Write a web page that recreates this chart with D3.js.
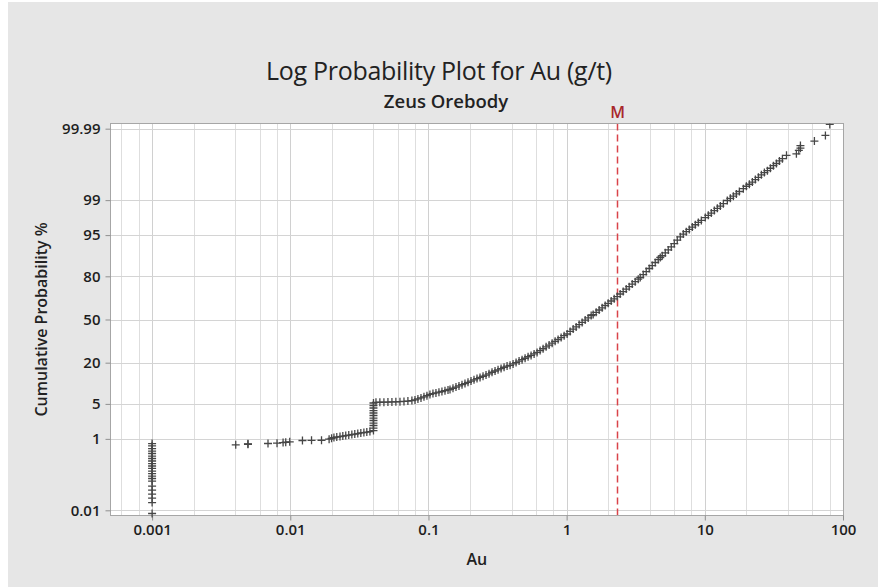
<!DOCTYPE html>
<html>
<head>
<meta charset="utf-8">
<script src="https://cdn.jsdelivr.net/npm/d3@7"></script>
<style>
  html, body { margin: 0; padding: 0; background: #ffffff; }
  svg { display: block; font-family: "Open Sans", "Noto Sans", sans-serif; }
</style>
</head>
<body>
<svg id="chart" width="878" height="587"></svg>
<script>
// ---- axis ticks ----
const xTicks = [0.001, 0.01, 0.1, 1, 10, 100];
const xTickLabels = ["0.001", "0.01", "0.1", "1", "10", "100"];
const yTicks = [0.01, 1, 5, 20, 50, 80, 95, 99, 99.99];
const yTickLabels = ["0.01", "1", "5", "20", "50", "80", "95", "99", "99.99"];

// mean grade marker (M)
const meanAu = 2.32;

// ---- Au samples (g/t) and cumulative probability (%) ----
// samples reported at the lower limit
const limitAu = 0.001;
const limitPct = [0.78, 0.689, 0.595, 0.518, 0.45, 0.389, 0.337, 0.291, 0.25, 0.215,
  0.185, 0.157, 0.134, 0.114, 0.097, 0.082, 0.0584, 0.0443, 0.0335, 0.0251, 0.018, 0.0078];

// sparse low-grade tail
const lowAu = [0.00403, 0.00494, 0.00494, 0.0069, 0.00802, 0.00887, 0.00927, 0.00991, 0.01225,
  0.01425, 0.01683, 0.0191, 0.0199, 0.0207, 0.0217, 0.0229, 0.024, 0.0252, 0.0265, 0.0279,
  0.0293, 0.0308, 0.0324, 0.0341, 0.0358, 0.0377];
const lowPct = [0.728, 0.753, 0.77, 0.782, 0.795, 0.824, 0.838, 0.856, 0.917,
  0.925, 0.931, 0.982, 1.03, 1.07, 1.10, 1.125, 1.155, 1.185, 1.217, 1.245,
  1.28, 1.31, 1.35, 1.38, 1.415, 1.45];

// samples at the 0.04 g/t step
const stepAu = 0.04;
const stepPct = [1.52, 1.72, 1.94, 2.18, 2.45, 2.74, 3.07, 3.42, 3.80, 4.23, 4.69, 5.18];

// main body of the distribution
const mainAu = [0.0417, 0.0445, 0.0476, 0.0509, 0.0544, 0.0581, 0.0622, 0.0665, 0.0710, 0.0759,
  0.0799, 0.0839, 0.0883, 0.0928, 0.0975, 0.1025, 0.1078, 0.1133, 0.1191, 0.1252,
  0.1317, 0.1385, 0.1432, 0.1505, 0.1582, 0.1663, 0.1749, 0.1838, 0.1933, 0.2032,
  0.2136, 0.2246, 0.2362, 0.2483, 0.2610, 0.2744, 0.2884, 0.3033, 0.3189, 0.3353,
  0.3525, 0.3706, 0.3896, 0.4096, 0.4306, 0.4527, 0.4759, 0.5004, 0.5260, 0.5530,
  0.5815, 0.6112, 0.6427, 0.6756, 0.7103, 0.7468, 0.7852, 0.8254, 0.8677, 0.9124,
  0.9592, 1.008, 1.060, 1.115, 1.172, 1.232, 1.295, 1.362, 1.432, 1.505,
  1.556, 1.636, 1.720, 1.808, 1.901, 1.998, 2.101, 2.209, 2.322, 2.441,
  2.567, 2.699, 2.837, 2.983, 3.136, 3.297, 3.409, 3.584, 3.768, 3.961,
  4.165, 4.378, 4.603, 4.759, 4.920, 5.173, 5.439, 5.718, 6.012, 6.320,
  6.645, 6.986, 7.343, 7.721, 8.118, 8.535, 8.973, 9.433, 10.08, 10.60,
  11.14, 11.72, 12.32, 12.95, 13.62, 14.55, 15.30, 16.09, 16.92, 17.78,
  19.01, 19.99, 21.01, 22.09, 23.22, 24.42, 25.67, 26.99, 28.38, 29.83,
  31.37, 32.97, 34.67, 36.44];
const mainPct = [5.32, 5.34, 5.36, 5.38, 5.40, 5.43, 5.47, 5.52, 5.60, 5.70,
  5.85, 6.08, 6.31, 6.60, 6.89, 7.21, 7.44, 7.62, 7.84, 8.02,
  8.27, 8.50, 8.64, 9.02, 9.39, 9.77, 10.2, 10.6, 11.05, 11.5,
  11.98, 12.46, 12.93, 13.43, 13.94, 14.49, 15.2, 15.78, 16.35, 16.94,
  17.6, 18.18, 18.6, 19.33, 20.08, 20.88, 21.67, 22.51, 23.39, 24.2,
  25.14, 26.04, 27.24, 28.42, 29.69, 30.88, 32.22, 33.56, 34.84, 36.22,
  37.61, 38.87, 40.83, 42.58, 44.28, 46.06, 47.73, 49.52, 51.24, 53.03,
  53.86, 55.56, 57.34, 59.01, 60.75, 62.39, 64.08, 65.68, 67.27, 69.04,
  70.72, 72.33, 73.89, 75.48, 76.97, 78.39, 79.34, 80.95, 82.50, 83.98,
  85.35, 86.66, 87.87, 88.65, 89.30, 90.30, 91.25, 92.15, 93.05, 93.90,
  94.65, 95.20, 95.65, 96.05, 96.42, 96.76, 97.07, 97.32, 97.65, 97.88,
  98.10, 98.31, 98.49, 98.65, 98.80, 98.98, 99.09, 99.19, 99.28, 99.37,
  99.46, 99.53, 99.58, 99.63, 99.68, 99.72, 99.76, 99.79, 99.814, 99.840,
  99.864, 99.882, 99.900, 99.914];

// high-grade tail
const highAu = [39.0, 46.0, 47.9, 49.2, 49.2, 62.1, 74.6, 80.2];
const highPct = [99.931, 99.938, 99.951, 99.958, 99.965, 99.9746, 99.9833, 99.9928];

// ---- inverse standard normal CDF (Acklam) for the probability axis ----
function probit(p) {
  const a = [-3.969683028665376e+01, 2.209460984245205e+02, -2.759285104469687e+02,
    1.383577518672690e+02, -3.066479806614716e+01, 2.506628277459239e+00];
  const b = [-5.447609879822406e+01, 1.615858368580409e+02, -1.556989798598866e+02,
    6.680131188771972e+01, -1.328068155288572e+01];
  const c = [-7.784894002430293e-03, -3.223964580411365e-01, -2.400758277161838e+00,
    -2.549732539343734e+00, 4.374664141464968e+00, 2.938163982698783e+00];
  const d = [7.784695709041462e-03, 3.224671290700398e-01, 2.445134137142996e+00,
    3.754408661907416e+00];
  const pLow = 0.02425;
  if (p < pLow) {
    const q = Math.sqrt(-2 * Math.log(p));
    return (((((c[0]*q+c[1])*q+c[2])*q+c[3])*q+c[4])*q+c[5]) /
           ((((d[0]*q+d[1])*q+d[2])*q+d[3])*q+1);
  }
  if (p <= 1 - pLow) {
    const q = p - 0.5, r = q * q;
    return (((((a[0]*r+a[1])*r+a[2])*r+a[3])*r+a[4])*r+a[5])*q /
           (((((b[0]*r+b[1])*r+b[2])*r+b[3])*r+b[4])*r+1);
  }
  const q = Math.sqrt(-2 * Math.log(1 - p));
  return -(((((c[0]*q+c[1])*q+c[2])*q+c[3])*q+c[4])*q+c[5]) /
          ((((d[0]*q+d[1])*q+d[2])*q+d[3])*q+1);
}

// ---- assemble points ----
const points = [];
limitPct.forEach(p => points.push({ au: limitAu, pct: p }));
lowAu.forEach((v, i) => points.push({ au: v, pct: lowPct[i] }));
stepPct.forEach(p => points.push({ au: stepAu, pct: p }));
mainAu.forEach((v, i) => points.push({ au: v, pct: mainPct[i] }));
highAu.forEach((v, i) => points.push({ au: v, pct: highPct[i] }));

// ---- layout ----
const W = 878, H = 587;
const plot = { left: 110.5, right: 843, top: 123.5, bottom: 515.5 };

const svg = d3.select("#chart");

svg.append("rect").attr("x", 0).attr("y", 0).attr("width", W).attr("height", H).attr("fill", "#ffffff");
svg.append("rect").attr("x", 8).attr("y", 2).attr("width", W - 8).attr("height", H - 2).attr("fill", "#e6e6e6");

const x = d3.scaleLog().domain([0.0005, 100]).range([plot.left, plot.right]);
const z = d3.scaleLinear().domain([-3.82, 3.82]).range([plot.bottom, plot.top]);
const yOf = pct => z(probit(pct / 100));

// plot background
svg.append("rect")
  .attr("x", plot.left).attr("y", plot.top)
  .attr("width", plot.right - plot.left).attr("height", plot.bottom - plot.top)
  .attr("fill", "#ffffff");

// vertical gridlines: 2,4,6,8 within each decade, then decades
const minorX = [];
for (let e = -4; e <= 1; e++) {
  [2, 4, 6, 8].forEach(m => {
    const v = m * Math.pow(10, e);
    if (v > 0.0005 && v < 100) minorX.push(v);
  });
}
const grid = svg.append("g").attr("shape-rendering", "crispEdges");
grid.selectAll("line.minor").data(minorX).join("line")
  .attr("class", "minor")
  .attr("x1", d => Math.round(x(d)) + 0.5).attr("x2", d => Math.round(x(d)) + 0.5)
  .attr("y1", plot.top).attr("y2", plot.bottom)
  .attr("stroke", "#dedede").attr("stroke-width", 1);
grid.selectAll("line.majorx").data(xTicks).join("line")
  .attr("class", "majorx")
  .attr("x1", d => Math.round(x(d)) + 0.5).attr("x2", d => Math.round(x(d)) + 0.5)
  .attr("y1", plot.top).attr("y2", plot.bottom)
  .attr("stroke", "#d0d0d0").attr("stroke-width", 1);
grid.selectAll("line.majory").data(yTicks).join("line")
  .attr("class", "majory")
  .attr("x1", plot.left).attr("x2", plot.right)
  .attr("y1", d => Math.round(yOf(d)) + 0.5).attr("y2", d => Math.round(yOf(d)) + 0.5)
  .attr("stroke", "#d4d4d4").attr("stroke-width", 1);

// mean reference line
const mx = Math.round(x(meanAu)) + 0.5;
svg.append("line")
  .attr("x1", mx).attr("x2", mx).attr("y1", plot.top).attr("y2", plot.bottom)
  .attr("stroke", "#d9434a").attr("stroke-width", 1.5)
  .attr("stroke-dasharray", "7,4");
svg.append("text")
  .attr("x", mx).attr("y", 118)
  .attr("text-anchor", "middle")
  .attr("font-size", 16).attr("font-weight", 600)
  .attr("fill", "#a8282c")
  .text("M");

// plot frame
svg.append("rect")
  .attr("x", plot.left).attr("y", plot.top)
  .attr("width", plot.right - plot.left).attr("height", plot.bottom - plot.top)
  .attr("fill", "none").attr("stroke", "#a6a6a6").attr("stroke-width", 1)
  .attr("shape-rendering", "crispEdges");

// axes
const xAxis = d3.axisBottom(x).tickValues(xTicks)
  .tickFormat((d, i) => xTickLabels[i]).tickSize(5).tickPadding(4);
const gx = svg.append("g").attr("transform", `translate(0,${plot.bottom})`).call(xAxis);
const yAxis = d3.axisLeft(z).tickValues(yTicks.map(p => probit(p / 100)))
  .tickFormat((d, i) => yTickLabels[i]).tickSize(5).tickPadding(5);
const gy = svg.append("g").attr("transform", `translate(${plot.left},0)`).call(yAxis);
[gx, gy].forEach(g => {
  g.select(".domain").remove();
  g.selectAll(".tick line").attr("stroke", "#8f8f8f");
  g.selectAll(".tick text")
    .attr("font-family", "'Open Sans', 'Noto Sans', sans-serif")
    .attr("font-size", 15).attr("font-weight", 600).attr("fill", "#1e1e1e");
});

// markers
const clipId = "plot-clip";
svg.append("clipPath").attr("id", clipId).append("rect")
  .attr("x", plot.left - 10).attr("y", plot.top)
  .attr("width", plot.right - plot.left + 20).attr("height", plot.bottom - plot.top + 10);
svg.append("g").attr("clip-path", `url(#${clipId})`)
  .selectAll("path.pt").data(points).join("path")
  .attr("class", "pt")
  .attr("transform", d => `translate(${x(d.au)},${yOf(d.pct)})`)
  .attr("d", "M-4,0H4M0,-4V4")
  .attr("stroke", "#464646").attr("stroke-width", 1.3).attr("fill", "none");

// titles
svg.append("text")
  .attr("x", 439).attr("y", 80)
  .attr("text-anchor", "middle")
  .attr("font-size", 25).attr("font-weight", 400).attr("fill", "#222222")
  .attr("letter-spacing", -0.3)
  .text("Log Probability Plot for Au (g/t)");
svg.append("text")
  .attr("x", 446).attr("y", 108)
  .attr("text-anchor", "middle")
  .attr("font-size", 18.5).attr("font-weight", 600).attr("fill", "#222222")
  .text("Zeus Orebody");

svg.append("text")
  .attr("x", (plot.left + plot.right) / 2).attr("y", 565)
  .attr("text-anchor", "middle")
  .attr("font-size", 16).attr("font-weight", 600).attr("fill", "#222222")
  .text("Au");
svg.append("text")
  .attr("transform", `translate(47,${(plot.top + plot.bottom) / 2}) rotate(-90)`)
  .attr("text-anchor", "middle")
  .attr("font-size", 16).attr("font-weight", 600).attr("fill", "#222222")
  .text("Cumulative Probability %");
</script>
</body>
</html>
